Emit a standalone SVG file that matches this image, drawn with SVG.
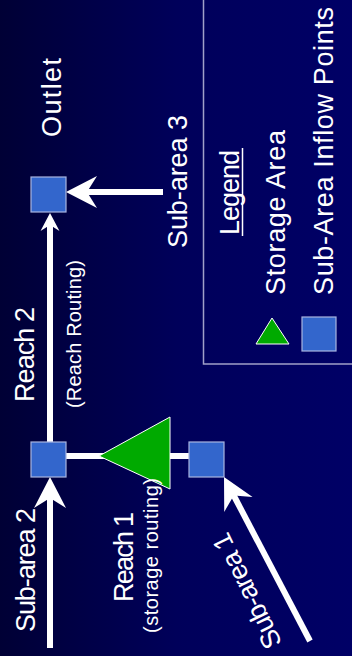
<svg xmlns="http://www.w3.org/2000/svg" width="352" height="656" viewBox="0 0 352 656">
  <defs>
    <linearGradient id="bgGrad" x1="0" y1="0" x2="1" y2="0">
      <stop offset="0" stop-color="#000035"/>
      <stop offset="0.5" stop-color="#00005a"/>
      <stop offset="1" stop-color="#000066"/>
    </linearGradient>
    <path id="ahBig" d="M0,0 L16,31 L0,21 L-16,31 Z"/>
    <path id="ahSmall" d="M0,0 L9.5,18 L0,12 L-9.5,18 Z"/>
  </defs>
  <style>
    .lbl { font-family: "Liberation Sans", Arial, sans-serif; font-size: 27px; fill: #ffffff; }
    .sm { font-family: "Liberation Sans", Arial, sans-serif; font-size: 20px; fill: #ffffff; }
    .sq { fill: #3366cc; stroke: #a8b4e0; stroke-width: 1.2; }
    .tri { fill: #00aa00; stroke: #ffffff; stroke-width: 1; }
    .ln { stroke: #ffffff; stroke-width: 6; fill: none; }
    .ah { fill: #ffffff; }
  </style>

  <rect x="0" y="0" width="352" height="656" fill="url(#bgGrad)"/>

  <g id="legend">
    <rect x="203.5" y="-2" width="152" height="366" fill="none" stroke="#a0a0c8" stroke-width="1.5"/>
    <text class="lbl" transform="translate(239,235) rotate(-90)" textLength="85">Legend</text>
    <line x1="242.5" y1="148" x2="242.5" y2="236" stroke="#ffffff" stroke-width="1.5"/>
    <polygon class="tri" points="272,318 256,344 289,344"/>
    <text class="lbl" transform="translate(285,295) rotate(-90)" textLength="165">Storage Area</text>
    <rect class="sq" x="302" y="317" width="34" height="34"/>
    <text class="lbl" transform="translate(333,295) rotate(-90)" textLength="288">Sub-Area Inflow Points</text>
  </g>

  <g id="connectors">
    <line class="ln" x1="66" y1="456" x2="189" y2="456"/>
    <line class="ln" x1="50" y1="442" x2="50" y2="224"/>
    <use href="#ahSmall" class="ah" transform="translate(50,213)"/>
    <line class="ln" x1="163" y1="192" x2="86" y2="192"/>
    <use href="#ahBig" class="ah" transform="translate(66,192) rotate(-90)"/>
    <line class="ln" x1="50" y1="648" x2="50" y2="497"/>
    <use href="#ahBig" class="ah" transform="translate(50,477)"/>
    <line class="ln" x1="310" y1="641" x2="233.5" y2="495"/>
    <use href="#ahBig" class="ah" transform="translate(224,477) rotate(-27.7)"/>
  </g>

  <g id="outlet">
    <rect class="sq" x="31" y="177" width="35" height="35"/>
    <text class="lbl" transform="translate(61,137) rotate(-90)" textLength="79">Outlet</text>
  </g>

  <g id="junction">
    <rect class="sq" x="31" y="442" width="35" height="35"/>
  </g>

  <g id="storage">
    <polygon class="tri" points="99,456 170,417 170,489"/>
  </g>

  <g id="inflow1">
    <rect class="sq" x="189" y="442" width="35" height="35"/>
  </g>

  <g id="labels">
    <text class="lbl" transform="translate(187,248) rotate(-90)" textLength="133">Sub-area 3</text>
    <text class="lbl" transform="translate(34,402) rotate(-90)" textLength="95">Reach 2</text>
    <text class="sm" transform="translate(81,408) rotate(-90)" textLength="148">(Reach Routing)</text>
    <text class="lbl" transform="translate(35,632) rotate(-90)" textLength="124">Sub-area 2</text>
    <text class="lbl" transform="translate(133,602) rotate(-90)" textLength="90">Reach 1</text>
    <text class="sm" transform="translate(158,633) rotate(-90)" textLength="155">(storage routing)</text>
    <text class="lbl" text-anchor="middle" transform="translate(255,587) rotate(-116)" textLength="125">Sub-area 1</text>
  </g>
</svg>
